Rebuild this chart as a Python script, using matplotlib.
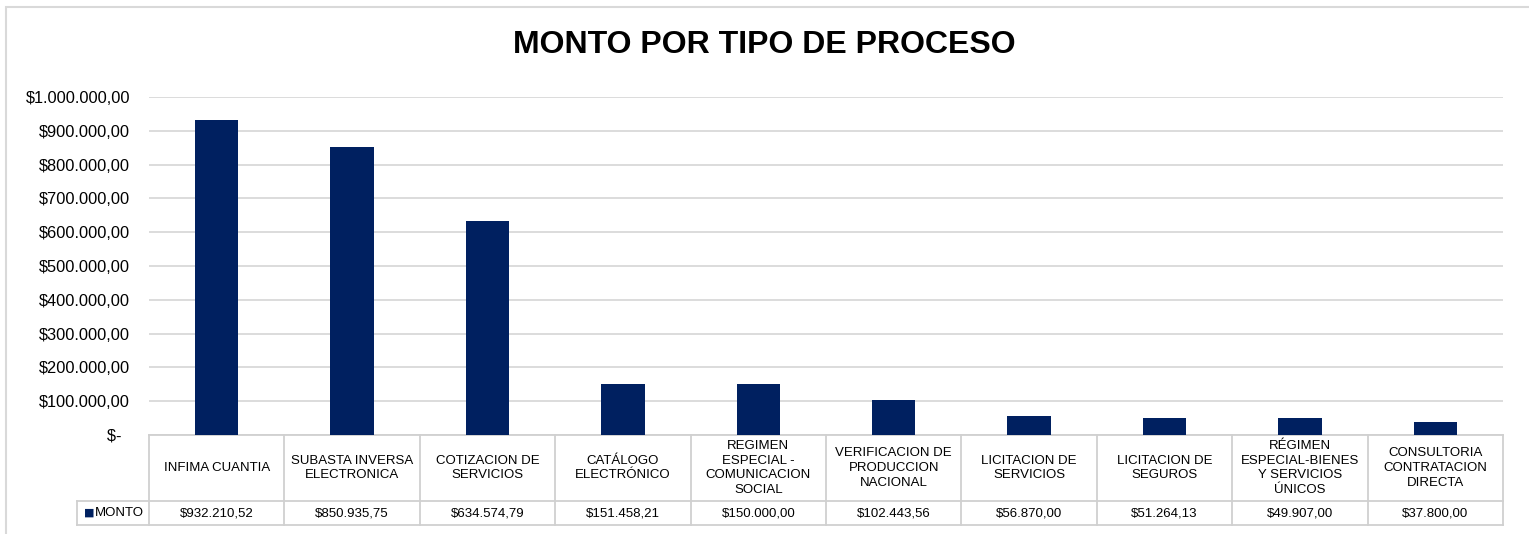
import numpy as np
import matplotlib
matplotlib.use("Agg")
from matplotlib import pyplot as plt
from matplotlib.patches import Rectangle
from matplotlib.transforms import blended_transform_factory

# chart data
categories = ["INFIMA CUANTIA", "SUBASTA INVERSA\nELECTRONICA", "COTIZACION DE\nSERVICIOS",
              "CATÁLOGO\nELECTRÓNICO", "REGIMEN\nESPECIAL -\nCOMUNICACION\nSOCIAL",
              "VERIFICACION DE\nPRODUCCION\nNACIONAL", "LICITACION DE\nSERVICIOS",
              "LICITACION DE\nSEGUROS", "RÉGIMEN\nESPECIAL-BIENES\nY SERVICIOS\nÚNICOS",
              "CONSULTORIA\nCONTRATACION\nDIRECTA"]
montos = [932210.52, 850935.75, 634574.79, 151458.21, 150000.00,
          102443.56, 56870.00, 51264.13, 49907.00, 37800.00]
y_ticks = [0, 100000, 200000, 300000, 400000, 500000, 600000, 700000, 800000, 900000, 1000000]
series_name = "MONTO"

bar_color = "#002060"
grid_color = "#D9D9D9"
line_color = "#D0D0D0"
font = "Liberation Sans"


def money(v):
    '''format a value the way excel shows it: $1.234,56'''
    if v == 0:
        return "$-  "
    s = "{:,.2f}".format(v)
    return "$" + s.replace(",", "X").replace(".", ",").replace("X", ".")


fig = plt.figure(figsize=(15.29, 5.34), dpi=100)
W, H = 1529, 534

# outer chart frame
fig.patches.append(Rectangle((6 / W, -0.05), 1.2, (534 - 7) / H + 0.05, transform=fig.transFigure,
                             fill=False, edgecolor=grid_color, linewidth=1.5))

ax_left, ax_right, ax_top, ax_bottom = 149, 1503, 97, 435
ax = fig.add_axes([ax_left / W, (H - ax_bottom) / H, (ax_right - ax_left) / W, (ax_bottom - ax_top) / H])

x = np.arange(len(categories))
ax.bar(x, montos, width=0.32, color=bar_color, zorder=3)
ax.set_xlim(-0.5, len(categories) - 0.5)
ax.set_ylim(0, 1000000)
ax.set_yticks(y_ticks)
ax.set_yticklabels([money(v) for v in y_ticks], fontsize=11.8, family=font)
ax.tick_params(axis="y", length=0, pad=13.5)
ax.set_xticks([])
for s in ax.spines.values():
    s.set_visible(False)
ax.grid(axis="y", color=grid_color, linewidth=1.3, zorder=0)
ax.set_axisbelow(True)

fig.text(0.5, (H - 45) / H, "MONTO POR TIPO DE PROCESO", ha="center", va="center",
         fontsize=23, fontweight="bold", family=font)

# data table below the plot
tr = blended_transform_factory(ax.transData, ax.transAxes)
px_per_unit = (ax_right - ax_left) / len(categories)


def yfrac(py):
    return (ax_bottom - py) / (ax_bottom - ax_top)


y_head_top, y_sep, y_bot = yfrac(435), yfrac(501), yfrac(525)
x_leg = -0.5 - (ax_left - 77) / px_per_unit
x_end = len(categories) - 0.5

ax.plot([-0.5, x_end], [y_head_top, y_head_top], color=line_color, lw=1.3, transform=tr, clip_on=False)
for yy in [y_sep, y_bot]:
    ax.plot([x_leg, x_end], [yy, yy], color=line_color, lw=1.3, transform=tr, clip_on=False)
ax.plot([x_leg, x_leg], [y_sep, y_bot], color=line_color, lw=1.3, transform=tr, clip_on=False)
for i in range(len(categories) + 1):
    xb = i - 0.5
    ax.plot([xb, xb], [y_head_top, y_bot], color=line_color, lw=1.3, transform=tr, clip_on=False)

for i in range(len(categories)):
    ax.text(i, (y_head_top + y_sep) / 2, categories[i], ha="center", va="center", fontsize=9.5,
            family=font, linespacing=1.3, transform=tr, clip_on=False)
    ax.text(i, (y_sep + y_bot) / 2, money(montos[i]), ha="center", va="center", fontsize=9.5,
            family=font, transform=tr, clip_on=False)

# legend key inside the first cell of the value row
ax.text(x_leg + 0.05, (y_sep + y_bot) / 2, "\u25A0", color=bar_color, ha="left", va="center",
        fontsize=8, family="DejaVu Sans", transform=tr, clip_on=False)
ax.text(x_leg + 0.13, (y_sep + y_bot) / 2, series_name, ha="left", va="center", fontsize=9.5,
        family=font, transform=tr, clip_on=False)

fig.savefig("out.png", dpi=100)
